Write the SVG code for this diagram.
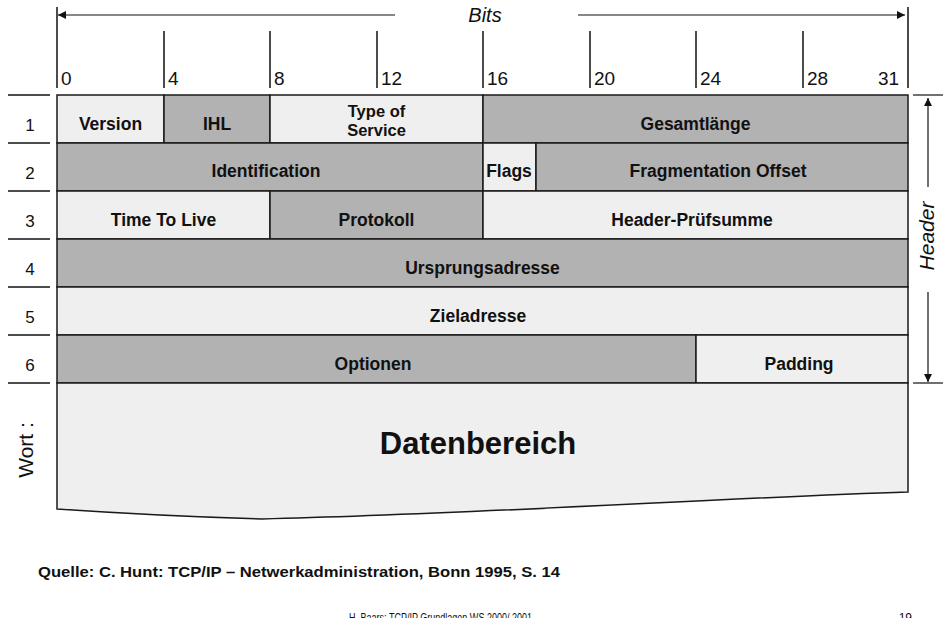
<svg xmlns="http://www.w3.org/2000/svg" width="943" height="618" viewBox="0 0 943 618">
  <style>
    .light { fill: #efefef; stroke: #1a1a1a; stroke-width: 1.5; }
    .dark { fill: #b2b2b2; stroke: #1a1a1a; stroke-width: 1.5; }
    .lbl { font-family: "Liberation Sans", Arial, sans-serif; font-weight: bold; font-size: 17.5px; fill: #111; text-anchor: middle; }
    .num { font-family: "Liberation Sans", Arial, sans-serif; font-size: 19px; fill: #111; }
    .row { font-family: "Liberation Sans", Arial, sans-serif; font-size: 17px; fill: #111; text-anchor: middle; }
    .ital { font-family: "Liberation Sans", Arial, sans-serif; font-style: italic; font-size: 20px; fill: #111; text-anchor: middle; }
    .rule { stroke: #111; stroke-width: 1.5; fill: none; }
    .thin { stroke: #111; stroke-width: 1.2; fill: none; }
    .foot { font-family: "Liberation Sans", Arial, sans-serif; font-size: 12px; fill: #111; }
  </style>
  <defs>
    <marker id="tri" viewBox="0 0 10 10" refX="10" refY="5" markerWidth="8" markerHeight="8" markerUnits="userSpaceOnUse" orient="auto">
      <path d="M0,0 L10,5 L0,10 Z" fill="#111"/>
    </marker>
  </defs>

  <rect width="943" height="618" fill="#ffffff"/>

  <!-- bit scale -->
  <g id="bit-scale">
    <line class="rule" x1="57" y1="7" x2="57" y2="88"/>
    <line class="rule" x1="908" y1="7" x2="908" y2="88"/>
    <line class="rule" x1="164" y1="31" x2="164" y2="88"/>
    <line class="rule" x1="270" y1="31" x2="270" y2="88"/>
    <line class="rule" x1="377" y1="31" x2="377" y2="88"/>
    <line class="rule" x1="483" y1="31" x2="483" y2="88"/>
    <line class="rule" x1="590" y1="31" x2="590" y2="88"/>
    <line class="rule" x1="696" y1="31" x2="696" y2="88"/>
    <line class="rule" x1="803" y1="31" x2="803" y2="88"/>
    <text class="num" x="61" y="85">0</text>
    <text class="num" x="168" y="85">4</text>
    <text class="num" x="274" y="85">8</text>
    <text class="num" x="381" y="85">12</text>
    <text class="num" x="487" y="85">16</text>
    <text class="num" x="594" y="85">20</text>
    <text class="num" x="700" y="85">24</text>
    <text class="num" x="807" y="85">28</text>
    <text class="num" x="878" y="85">31</text>
    <text class="ital" x="485" y="22">Bits</text>
  </g>

  <!-- word number ticks on the left -->
  <g id="word-index">
    <line class="rule" x1="8" y1="95" x2="50" y2="95"/>
    <line class="rule" x1="8" y1="143" x2="50" y2="143"/>
    <line class="rule" x1="8" y1="191" x2="50" y2="191"/>
    <line class="rule" x1="8" y1="239" x2="50" y2="239"/>
    <line class="rule" x1="8" y1="287" x2="50" y2="287"/>
    <line class="rule" x1="8" y1="335" x2="50" y2="335"/>
    <line class="rule" x1="8" y1="383" x2="50" y2="383"/>
    <text class="row" x="30" y="131">1</text>
    <text class="row" x="30" y="179">2</text>
    <text class="row" x="30" y="227">3</text>
    <text class="row" x="30" y="275">4</text>
    <text class="row" x="30" y="323">5</text>
    <text class="row" x="30" y="371">6</text>
    <text class="row" transform="translate(33,450) rotate(-90)" x="0" y="0" style="font-size:21px">Wort :</text>
  </g>

  <!-- word 1 -->
  <g id="version"><rect class="light" x="57" y="95" width="107" height="48"/><text class="lbl" x="110.5" y="130">Version</text></g>
  <g id="ihl"><rect class="dark" x="164" y="95" width="106" height="48"/><text class="lbl" x="217" y="130">IHL</text></g>
  <g id="type-of-service"><rect class="light" x="270" y="95" width="213" height="48"/><text class="lbl" x="376.5" y="117" style="font-size:16.5px">Type of</text><text class="lbl" x="376.5" y="136" style="font-size:16.5px">Service</text></g>
  <g id="gesamtlaenge"><rect class="dark" x="483" y="95" width="425" height="48"/><text class="lbl" x="695.5" y="130">Gesamtlänge</text></g>

  <!-- word 2 -->
  <g id="identification"><rect class="dark" x="57" y="143" width="426" height="48"/><text class="lbl" x="266" y="177">Identification</text></g>
  <g id="flags"><rect class="light" x="483" y="143" width="53" height="48"/><text class="lbl" x="509" y="177">Flags</text></g>
  <g id="fragmentation-offset"><rect class="dark" x="536" y="143" width="372" height="48"/><text class="lbl" x="718" y="177">Fragmentation Offset</text></g>

  <!-- word 3 -->
  <g id="time-to-live"><rect class="light" x="57" y="191" width="213" height="48"/><text class="lbl" x="163.5" y="226">Time To Live</text></g>
  <g id="protokoll"><rect class="dark" x="270" y="191" width="213" height="48"/><text class="lbl" x="376.5" y="226">Protokoll</text></g>
  <g id="header-pruefsumme"><rect class="light" x="483" y="191" width="425" height="48"/><text class="lbl" x="692" y="226">Header-Prüfsumme</text></g>

  <!-- word 4 -->
  <g id="ursprungsadresse"><rect class="dark" x="57" y="239" width="851" height="48"/><text class="lbl" x="482.5" y="274">Ursprungsadresse</text></g>

  <!-- word 5 -->
  <g id="zieladresse"><rect class="light" x="57" y="287" width="851" height="48"/><text class="lbl" x="478" y="322">Zieladresse</text></g>

  <!-- word 6 -->
  <g id="optionen"><rect class="dark" x="57" y="335" width="639" height="48"/><text class="lbl" x="373" y="370">Optionen</text></g>
  <g id="padding"><rect class="light" x="696" y="335" width="212" height="48"/><text class="lbl" x="799" y="370">Padding</text></g>

  <!-- payload area with torn lower edge -->
  <g id="datenbereich">
    <path class="light" d="M57,383 H908 V492 C720,498 480,514 262,519 Q160,516 57,509 Z"/>
    <text class="lbl" x="478" y="454" style="font-size:31px">Datenbereich</text>
  </g>

  <!-- dimension arrows -->
  <g id="connectors">
    <line class="thin" x1="395" y1="15" x2="58" y2="15" marker-end="url(#tri)"/>
    <line class="thin" x1="578" y1="15" x2="905" y2="15" marker-end="url(#tri)"/>
    <line class="thin" x1="913" y1="95" x2="943" y2="95"/>
    <line class="thin" x1="913" y1="383" x2="943" y2="383"/>
    <line class="thin" x1="928" y1="187" x2="928" y2="98" marker-end="url(#tri)"/>
    <line class="thin" x1="928" y1="292" x2="928" y2="382" marker-end="url(#tri)"/>
  </g>
  <text class="ital" transform="translate(934,236) rotate(-90)" x="0" y="0" style="font-size:21px">Header</text>

  <!-- source and footer -->
  <text x="38" y="577" style="font-family:'Liberation Sans',Arial,sans-serif;font-weight:bold;font-size:14px;fill:#111" textLength="522" lengthAdjust="spacingAndGlyphs">Quelle: C. Hunt: TCP/IP – Netwerkadministration, Bonn 1995, S. 14</text>
  <text class="foot" x="349" y="622" textLength="183" lengthAdjust="spacingAndGlyphs">H. Baars: TCP/IP Grundlagen WS 2000/ 2001</text>
  <text class="foot" x="912" y="622" style="text-anchor:end">19</text>
</svg>
